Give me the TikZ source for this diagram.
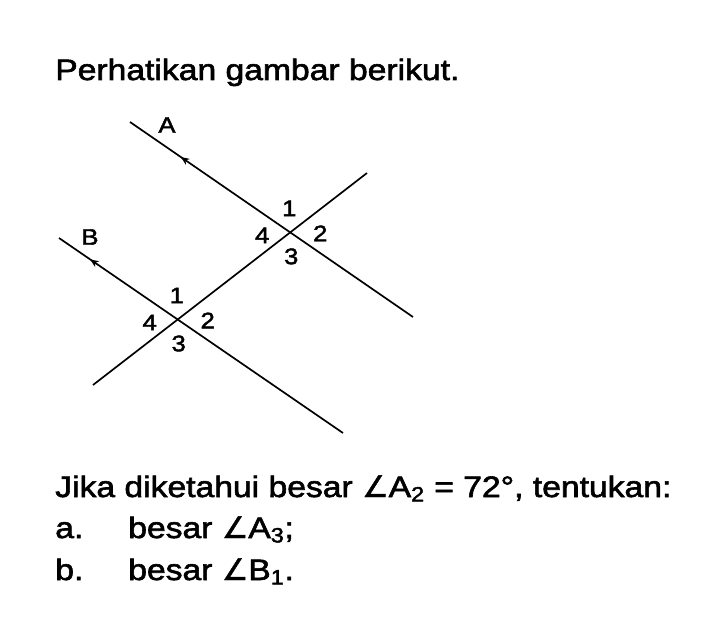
\documentclass[tikz,border=0pt]{standalone}
\usepackage{fontspec}
\setmainfont{Liberation Sans}[FakeStretch=1.14, FakeBold=2]
\newfontfamily\symfont{DejaVu Sans}[FakeBold=1.5]
\usetikzlibrary{decorations.markings}
\usetikzlibrary{arrows.meta}

\newcommand{\angsym}{{\symfont ∠}}

\tikzset{
    line/.style={line width=1.2pt},
    lbl/.style={font=\fontsize{16}{19}\selectfont, inner sep=0pt},
    txt/.style={font=\fontsize{21}{25}\selectfont, anchor=base west, inner sep=0pt},
    parmark/.style={postaction={decorate},
        decoration={markings, mark=at position #1 with {\arrowreversed{Stealth[length=6pt,width=5pt]}}}}
}

\begin{document}
\begin{tikzpicture}[x=0.025cm,y=-0.025cm]
            \useasboundingbox (0,0) rectangle (718,630);

            % question text
            \node[txt] (title) at (55,80) {Perhatikan gambar berikut.};

            % end points of the lines
            \coordinate (a1) at (130,122);
            \coordinate (a2) at (413,317);
            \coordinate (b1) at (59,238);
            \coordinate (b2) at (343,433);
            \coordinate (t1) at (93,385);
            \coordinate (t2) at (367,173);

            % intersection points
            \coordinate (pA) at (intersection of a1--a2 and t1--t2);
            \coordinate (pB) at (intersection of b1--b2 and t1--t2);

            % parallel lines and transversal
            \draw[line,parmark=0.18] (a1) -- (pA) -- (a2);
            \draw[line,parmark=0.11] (b1) -- (pB) -- (b2);
            \draw[line] (t1) -- (pB) -- (pA) -- (t2);

            % line names
            \node[lbl] (nameA) at (167,125) {A};
            \node[lbl] (nameB) at (90,237) {B};

            % angle numbers
            \foreach \p in {A,B}
            \foreach \n/\dx/\dy in {1/-1/-24, 2/30/1, 3/1/24, 4/-28/3}
            \path (p\p) ++(\dx,\dy) node[lbl] (\p\n) {\n};

            % questions
            \node[txt] (given) at (55,497) {Jika diketahui besar \angsym A\textsubscript{2} = 72°, tentukan:};
            \node[txt] (qa) at (55,538) {a.};
            \node[txt] (qaText) at (128,538) {besar \angsym A\textsubscript{3};};
            \node[txt] (qb) at (55,580) {b.};
            \node[txt] (qbText) at (128,580) {besar \angsym B\textsubscript{1}.};
        \end{tikzpicture}
\end{document}
